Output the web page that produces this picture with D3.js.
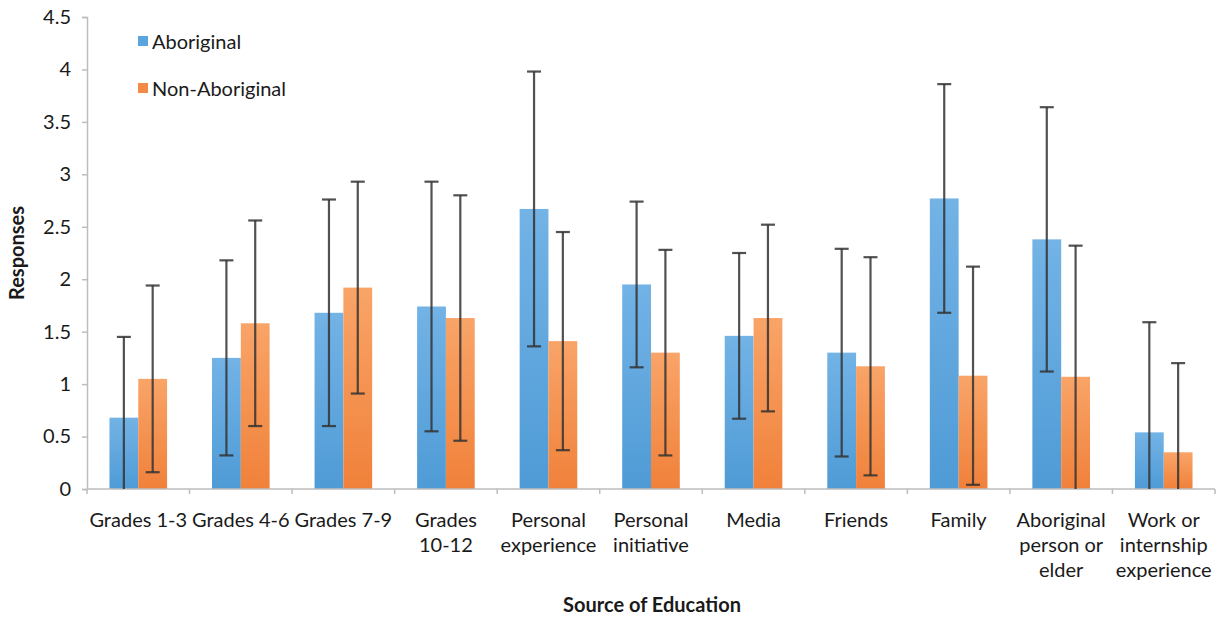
<!DOCTYPE html>
<html><head><meta charset="utf-8">
<script src="https://cdn.jsdelivr.net/npm/d3@7"></script>
<style>body{margin:0;background:#fff}svg{display:block}text{font-family:Lato,"Open Sans",sans-serif;fill:#1a1a1a}</style>
</head><body><svg id="c" width="1225" height="617"></svg>
<script>
const categories = [["Grades 1-3"],["Grades 4-6"],["Grades 7-9"],["Grades","10-12"],["Personal","experience"],["Personal","initiative"],["Media"],["Friends"],["Family"],["Aboriginal","person or","elder"],["Work or","internship","experience"]];
const seriesNames = ["Aboriginal","Non-Aboriginal"];
const aboriginal = [0.68,1.25,1.68,1.74,2.67,1.95,1.46,1.30,2.77,2.38,0.54];
const nonAboriginal = [1.05,1.58,1.92,1.63,1.41,1.30,1.63,1.17,1.08,1.07,0.35];
const aboriginalErr = [0.77,0.93,1.08,1.19,1.31,0.79,0.79,0.99,1.09,1.26,1.05];
const nonAboriginalErr = [0.89,0.98,1.01,1.17,1.04,0.98,0.89,1.04,1.04,1.25,0.85];
const yTicks = [0,0.5,1,1.5,2,2.5,3,3.5,4,4.5];
const yTickLabels = ["0","0.5","1","1.5","2","2.5","3","3.5","4","4.5"];

const svg = d3.select("#c");
const L=87, R=1215, T=17, B=489;
const FS="20px";
const x0 = d3.scaleBand().domain(d3.range(categories.length)).range([L,R]);
const x1 = d3.scaleBand().domain([0,1]).range([0,x0.bandwidth()]).paddingOuter(0.78);
const y = d3.scaleLinear().domain([0,4.5]).range([B,T]);

const defs = svg.append("defs");
const grads = [["gA","#73b3e6","#4f9bd6"],["gN","#f9a468","#f0813a"]];
grads.forEach(([id,c1,c2])=>{
  const g=defs.append("linearGradient").attr("id",id).attr("x1",0).attr("y1",0).attr("x2",0).attr("y2",1);
  g.append("stop").attr("offset","0%").attr("stop-color",c1);
  g.append("stop").attr("offset","100%").attr("stop-color",c2);
});
const fills=["url(#gA)","url(#gN)"];
const legendColors=["#5aa5dd","#f48a45"];

// axes
const yAxis = d3.axisLeft(y).tickValues(yTicks).tickFormat((d,i)=>yTickLabels[i]).tickSize(5).tickPadding(11);
const ga = svg.append("g").attr("transform",`translate(${L},0)`).call(yAxis);
ga.select(".domain").attr("stroke","#bdbdbd").attr("stroke-width",1.5);
ga.selectAll(".tick line").attr("stroke","#bdbdbd").attr("stroke-width",1.5);
ga.selectAll(".tick text").style("font-size",FS).attr("fill","#1a1a1a");

const data = [aboriginal,nonAboriginal];
const errs = [aboriginalErr,nonAboriginalErr];
const groups = svg.append("g");
categories.forEach((c,i)=>{
  [0,1].forEach(s=>{
    const v=data[s][i];
    const bx=x0(i)+x1(s);
    groups.append("rect").attr("x",bx).attr("width",x1.bandwidth()).attr("y",y(v)).attr("height",B-y(v)).attr("fill",fills[s]);
  });
});

// x axis
const xAxisG = svg.append("g");
xAxisG.append("line").attr("x1",L).attr("x2",R).attr("y1",B).attr("y2",B).attr("stroke","#bdbdbd").attr("stroke-width",1.5);
d3.range(categories.length+1).forEach(i=>{
  const xx = i<categories.length? x0(i): R;
  xAxisG.append("line").attr("x1",xx).attr("x2",xx).attr("y1",B).attr("y2",B+5).attr("stroke","#bdbdbd").attr("stroke-width",1.5);
});

// error bars
const eb = svg.append("g").attr("stroke","#333").attr("stroke-width",2.2).attr("stroke-opacity",0.85);
categories.forEach((c,i)=>{
  [0,1].forEach(s=>{
    const v=data[s][i], e=errs[s][i];
    const cx=x0(i)+x1(s)+x1.bandwidth()/2;
    const hi=v+e, lo=Math.max(0,v-e);
    eb.append("line").attr("x1",cx).attr("x2",cx).attr("y1",y(hi)).attr("y2",y(lo));
    eb.append("line").attr("x1",cx-7).attr("x2",cx+7).attr("y1",y(hi)).attr("y2",y(hi));
    if(v-e>0) eb.append("line").attr("x1",cx-7).attr("x2",cx+7).attr("y1",y(lo)).attr("y2",y(lo));
  });
});

// category labels
categories.forEach((lines,i)=>{
  const t=svg.append("text").attr("text-anchor","middle").style("font-size",FS)
    .attr("x",x0(i)+x0.bandwidth()/2).attr("y",527);
  lines.forEach((ln,k)=>t.append("tspan").attr("x",x0(i)+x0.bandwidth()/2).attr("dy",k?25:0).text(ln));
});

// axis titles
svg.append("text").attr("text-anchor","middle").attr("x",652).attr("y",612).style("font-size",FS).style("font-weight","bold").text("Source of Education");
svg.append("text").attr("text-anchor","middle").attr("transform","translate(24,253) rotate(-90)").style("font-size",FS).style("font-weight","bold").text("Responses");

// legend
seriesNames.forEach((n,k)=>{
  const ly=42+k*47;
  svg.append("rect").attr("x",138).attr("y",ly-6).attr("width",10).attr("height",10).attr("fill",legendColors[k]);
  svg.append("text").attr("x",152).attr("y",ly+7).style("font-size",FS).text(n);
});
</script></body></html>
